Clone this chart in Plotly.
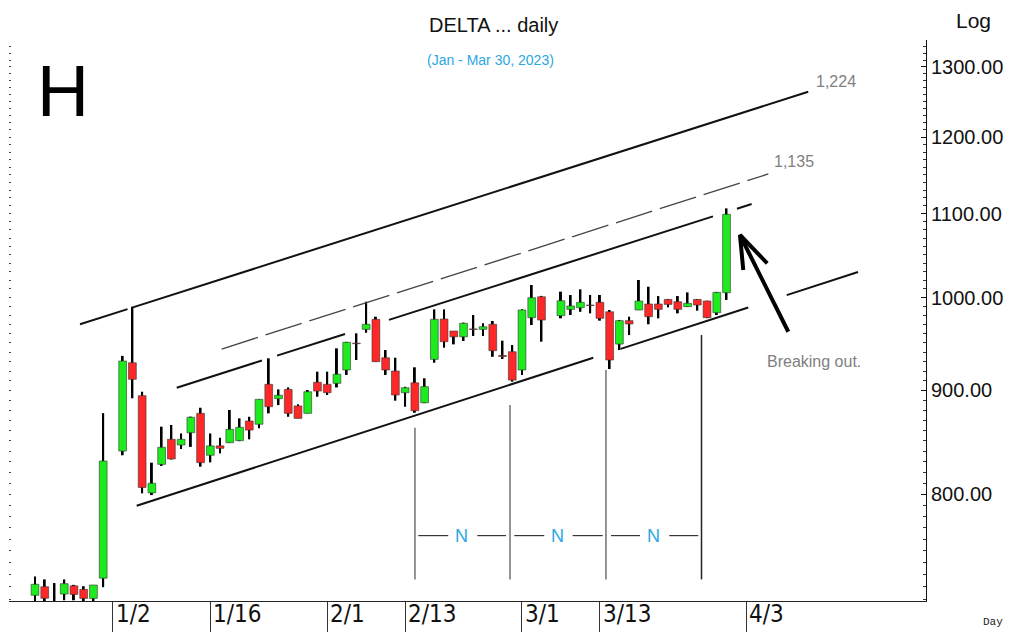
import math
import plotly.graph_objects as go

# ---------------- data ----------------
# x position = weekday index counted from 2022-12-21 (1/2 = 8, 4/3 = 73)
day_idx = [0, 1, 2, 3, 4, 5, 6, 7,
           9, 10, 11, 12, 13, 14, 15, 16, 17, 18, 19, 20, 21, 22, 23, 24, 25, 26, 27, 28, 29, 30,
           31, 32, 33, 34, 35, 36, 37, 38, 39, 40, 41, 42, 43, 44, 45, 46, 47, 48, 49, 50, 51, 52,
           54, 55, 56, 57, 58, 59, 60, 61, 62, 63, 64, 65, 66, 67, 68, 69, 70, 71]
opens = [713, 720, 706, 714, 720.7, 717.8, 710.5, 727,
         840, 928.7, 894.6, 801, 827.4, 851.3, 845.8, 857.7, 876.8, 836, 845, 848, 850, 869.2, 866, 906.2,
         891.5, 901, 884.2, 876.8, 908.3, 906.2, 907.2, 921.1, 949.5, 964.6, 975.7, 934, 920, 897.6, 907.8,
         887.4, 932.3, 976, 962.8, 956.5, 965, 964.6, 970.2, 936.4, 940.4, 921.1, 977.5, 1001,
         979.7, 986.8, 988.6, 991.7, 994.7, 984.1, 948.6, 974.2, 986.1, 992.8, 992.8, 998, 995.4, 989.8,
         998, 996.2, 983, 1005.6]
highs = [728.5, 726, 723, 726, 721.5, 720.4, 721.4, 877,
         936, 989.8, 898.6, 829, 863.6, 865.3, 857, 873.5, 882.4, 857, 852.8, 880.2, 871.8, 873.4, 891, 933.4,
         901, 903, 885.9, 900.4, 919.3, 919.3, 944, 951, 960.3, 995.4, 978.6, 942.2, 934, 903.7, 923.9,
         912.4, 986.8, 986.8, 962.8, 972, 980.5, 971.3, 973.8, 952.3, 947.6, 986.8, 1014.5, 1002,
         1006.8, 1003, 1009.5, 1003, 1003, 986.1, 975, 978.6, 1020.3, 1012.5, 1001.8, 998.5, 1001.8, 1006,
         998.5, 996.5, 1006.5, 1106.8]
lows = [703, 704, 702, 709, 709, 706, 708, 719.6,
        836, 891.9, 800.6, 799, 825.9, 832, 842, 844, 825.2, 829.3, 837.8, 848, 849.5, 851.3, 862, 876.8,
        885.1, 873.4, 871.8, 876.8, 893.5, 895.3, 903, 915.9, 931.6, 960.9, 929.8, 915.9, 889.5, 883.4, 877.4,
        887, 928.7, 944.7, 948.3, 951.9, 957.4, 957.4, 935, 932.7, 908.9, 915.9, 969.4, 951.2,
        976.8, 980.5, 984.1, 982.3, 974.2, 922.1, 942.2, 958.4, 986, 970.2, 976.8, 989, 982.3, 989.5,
        985.3, 977, 980.5, 997.4]
closes = [722, 710.6, 704, 722.5, 713.7, 710.5, 721.4, 830.6,
          930.5, 911.4, 806, 809.8, 843.6, 832.5, 851.3, 872.9, 829, 845, 842.6, 861, 863, 860.3, 890.9, 883.4,
          895, 876.8, 871.8, 898.6, 899.3, 897.6, 916.6, 950.5, 949, 970.2, 929.8, 921.1, 895.3, 902.7, 879.4,
          903.8, 975.7, 951.2, 956.5, 971.3, 964.5, 967.5, 941.5, 935.3, 910.6, 986.1, 999.9, 974.9,
          996.5, 990.6, 994.7, 991.1, 976.8, 931.6, 974.2, 970.5, 996.2, 978.6, 986.8, 992.4, 986.8, 993.6,
          991.7, 977.5, 1006, 1099.3]

tick_idx = [8, 18, 30, 38, 50, 58, 73]
tick_labels = ["1/2", "1/16", "2/1", "2/13", "3/1", "3/13", "4/3"]
y_tick_vals = [800, 900, 1000, 1100, 1200, 1300]
y_tick_text = ["800.00", "900.00", "1000.00", "1100.00", "1200.00", "1300.00"]

# drawn trend lines: anchor points (day index, price) and visible pieces
top_line_x = [4.62, 79.39]
top_line_y = [970.2, 1263.7]
top_line_pieces = [(4.62, 9.5), (10.05, 79.39)]
dash_line_x = [19.17, 75.29]
dash_line_y = [943.3, 1150.9]
upper_ch_x = [14.55, 73.58]
upper_ch_y = [902.7, 1112.3]
upper_ch_pieces = [(14.55, 23.3), (24.85, 31.83), (36.34, 69.61), (72.07, 73.58)]
lower_ch_x = [10.44, 84.5]
lower_ch_y = [789.4, 1029.6]
lower_ch_pieces = [(10.44, 57.32), (60.13, 73.23), (77.18, 84.5)]

# time-projection markers
n_vert_x = [39.01, 48.77, 58.62, 68.43]
n_vert_top = [862.6, 885.1, 921.1, 958.4]
n_vert_bottom = 726
n_label_x = [43.81, 53.66, 63.48]
n_label_y = 763
n_bar_pieces = [(39.35, 42.43), (45.41, 48.36), (49.21, 52.29), (55.2, 58.29), (59.14, 62.12), (65.12, 68.1)]

arrow_x = [77.34, 72.38]
arrow_y = [962, 1073.8]
arrow_wing_x = [75.18, 72.38, 72.72]
arrow_wing_y = [1039.8, 1073.8, 1031.9]

y_range = [708.4, 1340.2]
x_range = [-2.67, 91.48]
minor_vals = list(range(710, 1341, 10))


def on_line(xa, ya, x):
    l0, l1 = math.log(ya[0]), math.log(ya[1])
    t = (x - xa[0]) / (xa[1] - xa[0])
    return math.exp(l0 + t * (l1 - l0))


def pieces_xy(xa, ya, pcs):
    xs, ys = [], []
    for a, b in pcs:
        xs += [a, b, None]
        ys += [on_line(xa, ya, a), on_line(xa, ya, b), None]
    return xs, ys


fig = go.Figure()

# wicks (thin bars, drawn beneath the bodies)
wick_size = [h - l for h, l in zip(highs, lows)]
fig.add_trace(go.Bar(x=day_idx, base=lows, y=wick_size, width=0.2,
                     marker=dict(color="#000000", line=dict(width=0)),
                     hoverinfo="skip", showlegend=False))

# candle bodies
body_base = [min(o, c) for o, c in zip(opens, closes)]
body_size = [max(abs(c - o), 0.6) for o, c in zip(opens, closes)]
body_color = ["#1EEB1E" if c > o else "#FF2828" for o, c in zip(opens, closes)]
fig.add_trace(go.Bar(x=day_idx, base=body_base, y=body_size, width=0.8,
                     marker=dict(color=body_color, line=dict(color="#333333", width=0.6)),
                     hoverinfo="skip", showlegend=False))

# trend lines
for xa, ya, pcs in [(top_line_x, top_line_y, top_line_pieces),
                    (upper_ch_x, upper_ch_y, upper_ch_pieces),
                    (lower_ch_x, lower_ch_y, lower_ch_pieces)]:
    xs, ys = pieces_xy(xa, ya, pcs)
    fig.add_trace(go.Scatter(x=xs, y=ys, mode="lines", line=dict(color="#111111", width=2),
                             hoverinfo="skip", showlegend=False))

fig.add_trace(go.Scatter(x=dash_line_x, y=dash_line_y, mode="lines",
                         line=dict(color="#444444", width=1.3, dash="38px,8px"),
                         hoverinfo="skip", showlegend=False))

# vertical projection lines
for k, (vx, vt) in enumerate(zip(n_vert_x, n_vert_top)):
    fig.add_trace(go.Scatter(x=[vx, vx], y=[n_vert_bottom, vt], mode="lines",
                             line=dict(color="#707070" if k < 3 else "#222222", width=1.5),
                             hoverinfo="skip", showlegend=False))
bx, by = [], []
for a, b in n_bar_pieces:
    bx += [a, b, None]
    by += [n_label_y, n_label_y, None]
fig.add_trace(go.Scatter(x=bx, y=by, mode="lines", line=dict(color="#111111", width=1),
                         hoverinfo="skip", showlegend=False))

# arrow
fig.add_trace(go.Scatter(x=arrow_x, y=arrow_y, mode="lines", line=dict(color="#000000", width=4),
                         hoverinfo="skip", showlegend=False))
fig.add_trace(go.Scatter(x=arrow_wing_x, y=arrow_wing_y, mode="lines",
                         line=dict(color="#000000", width=4), hoverinfo="skip", showlegend=False))

# invisible trace for the left tick column
fig.add_trace(go.Scatter(x=[0], y=[1000], yaxis="y2", mode="markers", marker=dict(opacity=0),
                         hoverinfo="skip", showlegend=False))

ann = []
sans = "Liberation Sans, Arial, sans-serif"
blue = "#2AA8E2"
for v, t in zip(tick_idx, tick_labels):
    ann.append(dict(x=v, xref="x", y=0, yref="paper", xanchor="left", yanchor="top",
                    xshift=2, yshift=2, text=t, showarrow=False, borderpad=0,
                    font=dict(family="Liberation Sans Narrow, DejaVu Sans Condensed, Arial Narrow, sans-serif",
                              size=24, color="#111111")))
for x, t in zip(n_label_x, ["N", "N", "N"]):
    ann.append(dict(x=x, xref="x", y=math.log10(n_label_y), yref="y", text=t, showarrow=False,
                    xanchor="center", yanchor="middle",
                    font=dict(family=sans, size=18, color=blue)))
for x, yv, t, fs in [(82.29, 1278, "1,224", 16), (77.93, 1167, "1,135", 16),
                     (79.98, 929.8, "Breaking out.", 16)]:
    ann.append(dict(x=x, xref="x", y=math.log10(yv), yref="y", text=t, showarrow=False,
                    xanchor="center", yanchor="middle",
                    font=dict(family=sans, size=fs, color="#808080")))
for px, py, t, fam, fs, col in [
        (493, 25, "DELTA ... daily", sans, 20, "#111111"),
        (490, 60, "(Jan - Mar 30, 2023)", sans, 14, blue),
        (63, 91, "H", sans, 72, "#000000"),
        (973, 20, "Log", sans, 21, "#111111"),
        (993, 622, "Day", "Liberation Mono, DejaVu Sans Mono, monospace", 11, "#222222")]:
    ann.append(dict(x=(px - 9) / 917, xref="paper", y=(601 - py) / 561, yref="paper", text=t,
                    showarrow=False, xanchor="center", yanchor="middle",
                    font=dict(family=fam, size=fs, color=col)))

ylog = [math.log10(v) for v in y_range]
fig.update_layout(
    width=1012, height=632, margin=dict(l=9, r=86, t=40, b=31, autoexpand=False),
    paper_bgcolor="white", plot_bgcolor="white", showlegend=False,
    barmode="overlay",
    annotations=ann,
    xaxis=dict(range=x_range, showgrid=False, zeroline=False, showline=True, linecolor="#222222",
               linewidth=1, tickmode="array", tickvals=tick_idx, ticks="outside", ticklen=31,
               tickcolor="#333333", tickwidth=1, showticklabels=False, automargin=False),
    yaxis=dict(type="log", range=ylog, side="right", showgrid=False, zeroline=False,
               showline=True, linecolor="#111111", linewidth=1, automargin=False,
               tickmode="array", tickvals=y_tick_vals, ticktext=y_tick_text,
               ticks="inside", ticklen=5, tickcolor="#111111",
               tickfont=dict(family=sans, size=20, color="#111111"),
               minor=dict(tickmode="array", tickvals=minor_vals, ticks="inside", ticklen=3,
                          tickcolor="#333333")),
    yaxis2=dict(type="log", range=ylog, overlaying="y", side="left", showgrid=False, zeroline=False,
                showline=False, showticklabels=False, tickmode="array", tickvals=minor_vals,
                ticks="inside", ticklen=2, tickcolor="#444444", automargin=False),
)

fig.write_html("out.html", config={"displayModeBar": False},
               post_script="document.body.style.margin='0';")
